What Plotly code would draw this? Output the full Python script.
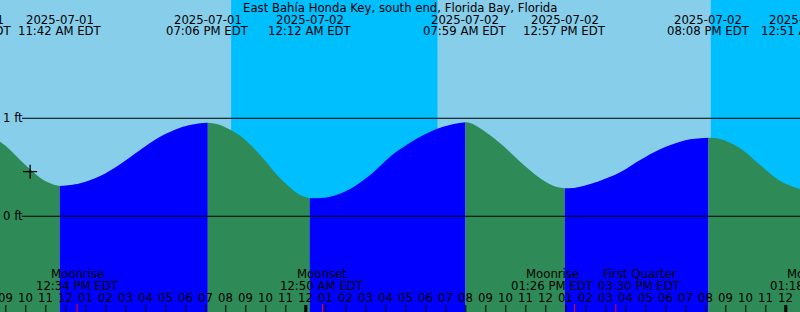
import plotly.graph_objects as go
import pandas as pd

# ---------------- data ----------------
station = "East Bahía Honda Key, south end, Florida Bay, Florida"

event_times = ["2025-07-01 07:13", "2025-07-01 11:42", "2025-07-01 19:06", "2025-07-02 00:12",
               "2025-07-02 07:59", "2025-07-02 12:57", "2025-07-02 20:08", "2025-07-03 00:51"]
event_levels = [0.93, 0.309, 0.955, 0.184, 0.959, 0.286, 0.802, 0.275]
event_dates = ["2025-07-01", "2025-07-01", "2025-07-01", "2025-07-02",
               "2025-07-02", "2025-07-02", "2025-07-02", "2025-07-03"]
event_labels = ["07:13 AM EDT", "11:42 AM EDT", "07:06 PM EDT", "12:12 AM EDT",
                "07:59 AM EDT", "12:57 PM EDT", "08:08 PM EDT", "12:51 AM EDT"]

sample_times = ["2025-07-01 08:43", "2025-07-01 09:13", "2025-07-01 09:43", "2025-07-01 10:13",
                "2025-07-01 10:43", "2025-07-01 11:13", "2025-07-01 11:28", "2025-07-01 12:13",
                "2025-07-01 12:43", "2025-07-01 13:43",
                "2025-07-01 14:43", "2025-07-01 15:43", "2025-07-01 16:43", "2025-07-01 17:43",
                "2025-07-01 18:13", "2025-07-01 18:43", "2025-07-01 19:28", "2025-07-01 19:43",
                "2025-07-01 20:43", "2025-07-01 21:43",
                "2025-07-01 22:43", "2025-07-01 23:43", "2025-07-02 00:43", "2025-07-02 01:13",
                "2025-07-02 02:13", "2025-07-02 03:13", "2025-07-02 04:13", "2025-07-02 04:43",
                "2025-07-02 05:43", "2025-07-02 06:43", "2025-07-02 07:28", "2025-07-02 08:13",
                "2025-07-02 08:43", "2025-07-02 09:43",
                "2025-07-02 10:43", "2025-07-02 11:43", "2025-07-02 12:22", "2025-07-02 13:28",
                "2025-07-02 13:43",
                "2025-07-02 14:43", "2025-07-02 15:43", "2025-07-02 16:43", "2025-07-02 17:43",
                "2025-07-02 18:43", "2025-07-02 19:13", "2025-07-02 19:43", "2025-07-02 20:43",
                "2025-07-02 21:43",
                "2025-07-02 22:43", "2025-07-02 23:43", "2025-07-03 00:43"]
sample_levels = [0.761, 0.677, 0.574, 0.480, 0.394, 0.337, 0.319, 0.319,
                 0.337, 0.411,
                 0.531, 0.677, 0.812, 0.904,
                 0.932, 0.949, 0.945, 0.932,
                 0.822, 0.626,
                 0.388, 0.217, 0.187, 0.200,
                 0.279, 0.421, 0.608, 0.684,
                 0.812, 0.904, 0.945, 0.952,
                 0.898, 0.745,
                 0.557, 0.388, 0.312, 0.292,
                 0.302,
                 0.363, 0.449, 0.574, 0.684,
                 0.761, 0.786, 0.796, 0.789,
                 0.694,
                 0.523, 0.360, 0.279]

moon_names = ["Moonrise", "Moonset", "Moonrise", "First Quarter", "Moonset"]
moon_times = ["2025-07-01 12:34", "2025-07-02 00:50", "2025-07-02 13:26", "2025-07-02 15:30", "2025-07-03 01:18"]
moon_labels = ["12:34 PM EDT", "12:50 AM EDT", "01:26 PM EDT", "03:30 PM EDT", "01:18 AM EDT"]

night_start = ["2025-07-01 20:16", "2025-07-02 20:15"]
night_end = ["2025-07-02 06:35", "2025-07-03 06:36"]

now_time = "2025-07-01 10:13"
now_level = 0.455

level_lines = [0, 1]
level_labels = ["0 ft", "1 ft"]

hour_ticks = pd.date_range("2025-07-01 09:00", "2025-07-03 00:00", freq="h")
hour_labels = [t.strftime("%I") for t in hour_ticks]

# ---------------- style ----------------
DAY = "#87CEEB"
NIGHT = "#00BFFF"
RISE = "#0000FF"
FALL = "#2E8B57"
FONT = dict(family="DejaVu Sans", size=11.7, color="black")
W, H = 800, 312
x_range = ["2025-07-01 08:42:36", "2025-07-03 00:42:36"]
y_range = [-0.977, 2.207]
moon_shift = [0, 0, -22, 24, 0]

X0, X1 = pd.Timestamp(x_range[0]), pd.Timestamp(x_range[1])


def py(p):
    return 1 - p / H


def xp(t):
    return (pd.Timestamp(t) - X0) / (X1 - X0)


fig = go.Figure()

# tide curve segments
ev = pd.to_datetime(event_times)
st = pd.to_datetime(sample_times)
for i in range(len(ev) - 1):
    xs = [ev[i]] + [t for t in st if ev[i] < t < ev[i + 1]] + [ev[i + 1]]
    ys = [event_levels[i]] + [l for t, l in zip(st, sample_levels) if ev[i] < t < ev[i + 1]] + [event_levels[i + 1]]
    color = RISE if event_levels[i + 1] > event_levels[i] else FALL
    fig.add_trace(go.Scatter(x=[ev[i], ev[i + 1]], y=[-3, -3], mode="lines",
                             line=dict(width=0), hoverinfo="skip", showlegend=False))
    fig.add_trace(go.Scatter(x=xs, y=ys, mode="lines", line=dict(width=0, shape="spline", smoothing=1),
                             fill="tonexty", fillcolor=color, hoverinfo="skip", showlegend=False))

# now marker
fig.add_trace(go.Scatter(x=[now_time], y=[now_level], mode="markers",
                         marker=dict(symbol="cross-thin", size=10, line=dict(width=1.3, color="black")),
                         hoverinfo="skip", showlegend=False))

shapes = []
for a, b in zip(night_start, night_end):
    shapes.append(dict(type="rect", xref="x", yref="paper", x0=a, x1=b, y0=0, y1=1,
                       fillcolor=NIGHT, line=dict(width=0), layer="below"))
for lv in level_lines:
    shapes.append(dict(type="line", xref="paper", yref="y", x0=22 / W, x1=1, y0=lv, y1=lv,
                       line=dict(color="black", width=1), layer="above"))
for t in hour_ticks:
    mid = t.hour == 0
    shapes.append(dict(type="line", xref="x", yref="paper", x0=t, x1=t, y0=py(312), y1=py(305),
                       line=dict(color="black", width=3 if mid else 1), layer="above"))
for t in moon_times:
    shapes.append(dict(type="line", xref="x", yref="paper", x0=t, x1=t, y0=py(312), y1=py(304),
                       line=dict(color="red", width=1), layer="above"))

ann = []
ann.append(dict(text=station, xref="paper", yref="paper", x=0.5, y=py(7.5), xanchor="center",
                yanchor="middle", showarrow=False, font=FONT))
for t, d, l in zip(event_times, event_dates, event_labels):
    ann.append(dict(text=d, xref="paper", yref="paper", x=xp(t), y=py(19.5), xanchor="center",
                    yanchor="middle", showarrow=False, font=FONT))
    ann.append(dict(text=l, xref="paper", yref="paper", x=xp(t), y=py(31.5), xanchor="center",
                    yanchor="middle", showarrow=False, font=FONT))
for lv, lab in zip(level_lines, level_labels):
    ann.append(dict(text=lab, xref="paper", yref="y", x=1 / W, y=lv, xanchor="left",
                    yanchor="middle", showarrow=False, font=FONT))
for t, n, l, s in zip(moon_times, moon_names, moon_labels, moon_shift):
    ann.append(dict(text=n, xref="paper", yref="paper", x=xp(t), y=py(274), xanchor="center", xshift=s,
                    yanchor="middle", showarrow=False, font=FONT))
    ann.append(dict(text=l, xref="paper", yref="paper", x=xp(t), y=py(286), xanchor="center", xshift=s,
                    yanchor="middle", showarrow=False, font=FONT))
for t, l in zip(hour_ticks, hour_labels):
    ann.append(dict(text=l, xref="paper", yref="paper", x=xp(t), y=py(297.5), xanchor="center",
                    yanchor="middle", showarrow=False, font=FONT))

fig.update_layout(
    width=W, height=H, margin=dict(l=0, r=0, t=0, b=0),
    paper_bgcolor=DAY, plot_bgcolor=DAY,
    xaxis=dict(type="date", range=x_range, visible=False, fixedrange=True),
    yaxis=dict(range=y_range, visible=False, fixedrange=True),
    shapes=shapes, annotations=ann, showlegend=False,
)
fig.write_html("out.html", config={"displayModeBar": False})
